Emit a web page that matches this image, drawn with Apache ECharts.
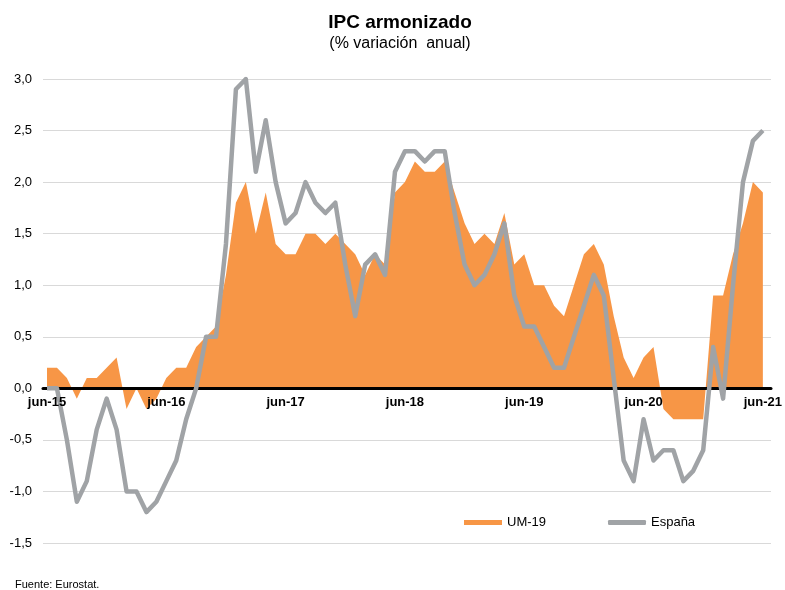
<!DOCTYPE html>
<html>
<head>
<meta charset="utf-8">
<script src="https://cdn.jsdelivr.net/npm/echarts@6/dist/echarts.min.js"></script>
<style>
html,body{margin:0;padding:0;background:#fff;}
#chart{width:785px;height:590px;}
</style>
</head>
<body>
<div id="chart"></div>
<script>
var categories = [
  "jun-15","jul-15","ago-15","sep-15","oct-15","nov-15","dic-15",
  "ene-16","feb-16","mar-16","abr-16","may-16","jun-16","jul-16","ago-16","sep-16","oct-16","nov-16","dic-16",
  "ene-17","feb-17","mar-17","abr-17","may-17","jun-17","jul-17","ago-17","sep-17","oct-17","nov-17","dic-17",
  "ene-18","feb-18","mar-18","abr-18","may-18","jun-18","jul-18","ago-18","sep-18","oct-18","nov-18","dic-18",
  "ene-19","feb-19","mar-19","abr-19","may-19","jun-19","jul-19","ago-19","sep-19","oct-19","nov-19","dic-19",
  "ene-20","feb-20","mar-20","abr-20","may-20","jun-20","jul-20","ago-20","sep-20","oct-20","nov-20","dic-20",
  "ene-21","feb-21","mar-21","abr-21","may-21","jun-21"
];
var um19 = [
  0.2, 0.2, 0.1, -0.1, 0.1, 0.1, 0.2,
  0.3, -0.2, 0.0, -0.2, -0.1, 0.1, 0.2, 0.2, 0.4, 0.5, 0.6, 1.1,
  1.8, 2.0, 1.5, 1.9, 1.4, 1.3, 1.3, 1.5, 1.5, 1.4, 1.5, 1.4,
  1.3, 1.1, 1.3, 1.2, 1.9, 2.0, 2.2, 2.1, 2.1, 2.2, 1.9, 1.6,
  1.4, 1.5, 1.4, 1.7, 1.2, 1.3, 1.0, 1.0, 0.8, 0.7, 1.0, 1.3,
  1.4, 1.2, 0.7, 0.3, 0.1, 0.3, 0.4, -0.2, -0.3, -0.3, -0.3, -0.3,
  0.9, 0.9, 1.3, 1.6, 2.0, 1.9
];
var espana = [
  0.0, 0.0, -0.5, -1.1, -0.9, -0.4, -0.1,
  -0.4, -1.0, -1.0, -1.2, -1.1, -0.9, -0.7, -0.3, 0.0, 0.5, 0.5, 1.4,
  2.9, 3.0, 2.1, 2.6, 2.0, 1.6, 1.7, 2.0, 1.8, 1.7, 1.8, 1.2,
  0.7, 1.2, 1.3, 1.1, 2.1, 2.3, 2.3, 2.2, 2.3, 2.3, 1.7, 1.2,
  1.0, 1.1, 1.3, 1.6, 0.9, 0.6, 0.6, 0.4, 0.2, 0.2, 0.5, 0.8,
  1.1, 0.9, 0.1, -0.7, -0.9, -0.3, -0.7, -0.6, -0.6, -0.9, -0.8, -0.6,
  0.4, -0.1, 1.0, 2.0, 2.4, 2.5
];
var seriesNames = ["UM-19", "España"];
var titleText = "IPC armonizado";
var subtitleText = "(% variación  anual)";
var sourceText = "Fuente: Eurostat.";

var chart = echarts.init(document.getElementById('chart'), null, {renderer: 'canvas'});
var font = '"Liberation Sans", Arial, sans-serif';
chart.setOption({
  animation: false,
  backgroundColor: '#ffffff',
  legend: {
    left: 459,
    top: 511,
    itemWidth: 38,
    itemHeight: 5,
    itemGap: 62,
    textStyle: {fontFamily: font, fontSize: 13, color: '#000'},
    data: [
      {name: seriesNames[0], icon: 'rect'},
      {name: seriesNames[1], icon: 'roundRect'}
    ]
  },
  grid: [
    {left: 47, right: 18, top: 79, bottom: 47, containLabel: false},
    {left: 43, right: 14, top: 79, bottom: 47, containLabel: false}
  ],
  xAxis: [
    {
      type: 'category',
      gridIndex: 0,
      data: categories,
      boundaryGap: false,
      position: 'bottom',
      z: 5,
      offset: -155,
      axisLine: {show: false, onZero: false},
      axisTick: {show: false},
      axisLabel: {interval: 11, margin: 8, fontFamily: font, fontSize: 13, fontWeight: 'bold', color: '#000'},
      splitLine: {show: false}
    },
    {
      type: 'value',
      gridIndex: 1,
      min: 0,
      max: 1,
      position: 'bottom',
      z: 2,
      offset: -155,
      axisLine: {show: true, onZero: false, lineStyle: {color: '#000', width: 3}},
      axisTick: {show: false},
      axisLabel: {show: false},
      splitLine: {show: false}
    }
  ],
  yAxis: [
    {
      type: 'value',
      gridIndex: 0,
      min: -1.5,
      max: 3,
      interval: 0.5,
      axisLine: {show: false},
      axisTick: {show: false},
      axisLabel: {
        margin: 15,
        fontFamily: font, fontSize: 13, color: '#000',
        formatter: function (v) { return v.toFixed(1).replace('.', ','); }
      },
      splitLine: {show: false}
    },
    {
      type: 'value',
      gridIndex: 1,
      min: -1.5,
      max: 3,
      interval: 0.5,
      axisLine: {show: false},
      axisTick: {show: false},
      axisLabel: {show: false},
      splitLine: {lineStyle: {color: '#d9d9d9', width: 1}}
    }
  ],
  series: [
    {
      name: seriesNames[0],
      type: 'line',
      xAxisIndex: 0,
      yAxisIndex: 0,
      data: um19,
      z: 1,
      symbol: 'none',
      color: '#F79646',
      lineStyle: {width: 0},
      areaStyle: {color: '#F79646', opacity: 1, origin: 0}
    },
    {
      name: seriesNames[1],
      type: 'line',
      xAxisIndex: 0,
      yAxisIndex: 0,
      data: espana,
      z: 3,
      symbol: 'none',
      color: '#A0A3A6',
      lineStyle: {width: 4.5, color: '#A0A3A6', join: 'round'}
    }
  ],
  graphic: [
    {
      type: 'text',
      x: 400,
      y: 22.5,
      style: {text: titleText, font: 'bold 19px ' + font, fill: '#000', align: 'center', verticalAlign: 'middle'}
    },
    {
      type: 'text',
      x: 400,
      y: 44,
      style: {text: subtitleText, font: '16px ' + font, fill: '#000', align: 'center', verticalAlign: 'middle'}
    },
    {
      type: 'text',
      left: 15,
      top: 579,
      style: {text: sourceText, font: '11px ' + font, fill: '#000'}
    }
  ]
});
</script>
</body>
</html>
